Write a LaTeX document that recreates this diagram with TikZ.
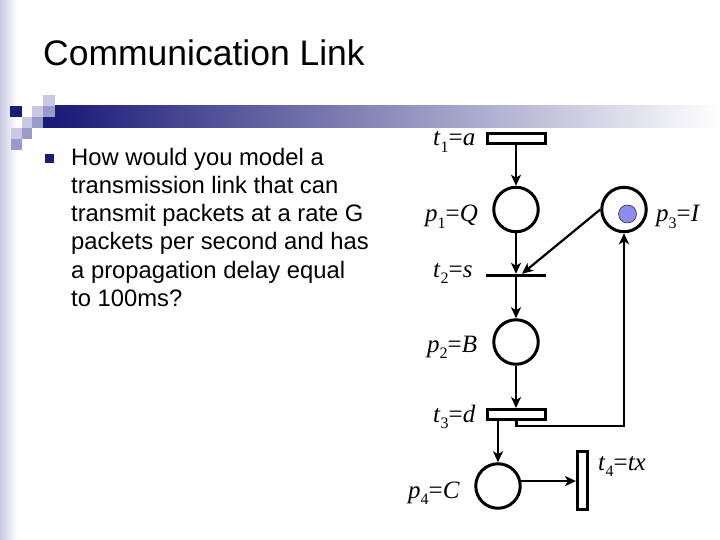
\documentclass[tikz,border=0pt]{standalone}
\usepackage{fontspec}
\setmainfont{Liberation Serif}
\newfontfamily\arialf{Liberation Sans}
\usetikzlibrary{arrows.meta}
\definecolor{navyc}{HTML}{1A1A78}
\definecolor{lightsq}{HTML}{C8C8E4}
\definecolor{medsq}{HTML}{9A9ACC}
\definecolor{stripec}{HTML}{C8C8E2}
\definecolor{tokenc}{HTML}{8C8CF0}
\newcommand\plab[3]{\textit{#1}\raisebox{-0.25em}{\fontsize{16}{16}\selectfont #2}=\textit{#3}}
\begin{document}
\begin{tikzpicture}[x=1pt,y=-1pt,
  place/.style={circle,draw,line width=3pt,minimum size=44.5pt,inner sep=0pt},
  transbox/.style={rectangle,draw,line width=3pt,inner sep=0pt},
  arr/.style={line width=2.2pt,-{Stealth[length=11pt,width=10pt,inset=3pt]}},
  lab/.style={anchor=base west,inner sep=0pt,font=\fontsize{25}{28}\selectfont}]
\useasboundingbox (0,0) rectangle (720,540);
\fill[white] (0,0) rectangle (720,540);
% left stripe
\shade[left color=stripec,right color=white] (0,0) rectangle (17,540);
% bar
\shade[left color=navyc,right color=white] (55,106) rectangle (720,128);
% squares
\fill[navyc] (10,106) rectangle (22,117);
\fill[lightsq] (43,95) rectangle (55,106);
\fill[lightsq] (32,106) rectangle (43,117);
\fill[medsq] (43,106) rectangle (55,117);
\fill[lightsq] (22,117) rectangle (32,128);
\fill[medsq] (32,117) rectangle (43,128);
\fill[navyc] (43,117) rectangle (55,128);
\fill[lightsq] (11,128) rectangle (22,139);
\fill[medsq] (22,128) rectangle (32,139);
\fill[medsq] (11,139) rectangle (22,150);
% title
\node[anchor=base west,inner sep=0pt,font=\arialf\fontsize{35.5}{40}\selectfont] (title) at (43,66) {Communication Link};
% bullet
\fill[navyc] (45,154) rectangle (54,163);
\node[anchor=base west,inner sep=0pt,align=left,font=\arialf\fontsize{23.8}{28.3}\selectfont] (body) at (71,306.5)
 {How would you model a\\transmission link that can\\transmit packets at a rate G\\packets per second and has\\a propagation delay equal\\to 100ms?};
% Petri net
\node[transbox,minimum width=58pt,minimum height=10pt] (t1) at (516.5,138.5) {};
\node[place] (p1) at (516,209.5) {};
\node[place] (p3) at (624,209.5) {};
\fill[tokenc,draw=black,line width=0.4pt] (627.5,214) circle (9);
\node[rectangle,fill=black,minimum width=60pt,minimum height=3pt,inner sep=0pt] (t2) at (516,275.5) {};
\node[place] (p2) at (516,342) {};
\node[transbox,minimum width=58pt,minimum height=10pt] (t3) at (516.5,414.5) {};
\node[place] (p4) at (498,486) {};
\node[transbox,minimum width=10pt,minimum height=58pt] (t4) at (582.5,480.5) {};
% labels
\node[lab] (lt1) at (433,146) {\plab{t}{1}{a}};
\node[lab] (lp1) at (425,222) {\plab{p}{1}{Q}};
\node[lab] (lp3) at (656,222) {\plab{p}{3}{I}};
\node[lab] (lt2) at (433,277) {\plab{t}{2}{s}};
\node[lab] (lp2) at (427,352) {\plab{p}{2}{B}};
\node[lab] (lt3) at (433,422) {\plab{t}{3}{d}};
\node[lab] (lp4) at (408,498) {\plab{p}{4}{C}};
\node[lab] (lt4) at (598,470) {\plab{t}{4}{tx}};
% arcs
\draw[arr] (t1.south -| p1.north) -- (p1.north);
\draw[arr] (p1.south) -- (p1.south |- t2.north);
\draw[arr] (p3.west) -- ([xshift=6pt]t2.north);
\draw[arr] (t2.south) -- (p2.north);
\draw[arr] (p2.south) -- (p2.south |- t3.north);
\draw[arr] (t3.south) -- ++(0,5) -| (p3.south);
\draw[arr] (p4.north |- t3.south) -- (p4.north);
\draw[arr] (p4.12) -- (t4.west |- p4.12);
\end{tikzpicture}
\end{document}
